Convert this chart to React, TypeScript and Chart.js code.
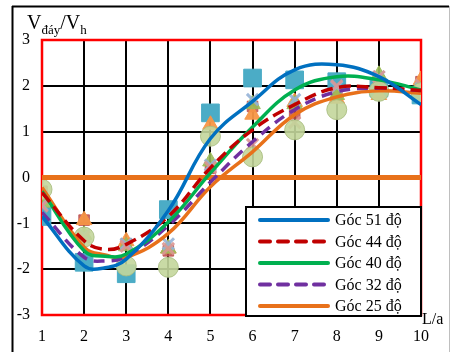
import React, { useEffect, useRef } from 'react';
import { Chart, registerables } from 'chart.js';
Chart.register(...registerables);

const FONT = "'Liberation Serif', 'Times New Roman', serif";

// Curve sample positions (L/a) and values (V_day/V_h)
const xCurve = [1, 2, 2.5, 3, 4, 5, 6, 7, 8, 9, 10];
const goc51 = [-0.85, -1.93, -1.97, -1.78, -0.72, 0.85, 1.66, 2.35, 2.46, 2.2, 1.59];
const goc44 = [-0.33, -1.38, -1.57, -1.46, -0.85, 0.21, 1.04, 1.59, 1.96, 1.96, 1.9];
const goc40 = [-0.3, -1.6, -1.72, -1.67, -0.97, 0.1, 1.1, 1.91, 2.2, 2.13, 1.91];
const goc32 = [-0.76, -1.74, -1.82, -1.72, -1.05, -0.1, 0.78, 1.48, 1.87, 1.95, 1.9];
const goc25 = [-0.22, -1.52, -1.69, -1.74, -1.22, -0.2, 0.56, 1.37, 1.76, 1.89, 1.84];

// Measured points
const xPts = [1, 2, 3, 4, 5, 6, 7, 8, 9, 10];
const ptSquare = [-0.85, -1.85, -2.1, -0.7, 1.41, 2.17, 2.13, 2.09, 1.95, 1.8];
const ptRedSq = [-0.3, -0.93, -1.45, -1.6, 0.2, 1.55, 1.4, 1.75, 2.0, 2.09];
const ptOrangeTri = [-0.35, -0.93, -1.39, -1.55, 1.15, 1.37, 1.65, 1.72, 1.8, 2.13];
const ptGreenTri = [-0.55, -1.25, -1.5, -1.55, 0.35, 1.6, 1.6, 1.8, 2.24, 1.9];
const ptCrossPink = [-0.62, -1.3, -1.5, -1.55, 0.22, 0.72, 1.2, 2.0, 2.2, 2.02];
const ptCrossBlue = [-0.6, -1.25, -1.45, -1.45, 0.27, 1.7, 1.7, 1.98, 2.2, 1.95];
const ptCircle = [-0.26, -1.3, -1.93, -1.96, 0.9, 0.45, 1.04, 1.48, 1.88, 1.85];

const zeroX = [1, 10];
const zeroY = [0, 0];

const legendLabels = ['Góc 51 độ', 'Góc 44 độ', 'Góc 40 độ', 'Góc 32 độ', 'Góc 25 độ'];
const legendColors = ['#0070C0', '#C00000', '#00B050', '#7030A0', '#E8711A'];
const legendDash = [[], [12, 6], [], [11, 7], []];

const pairs = (xs: number[], ys: number[]) => ys.map((y, i) => ({ x: xs[i], y }));

export default function App() {
  const ref = useRef<HTMLCanvasElement | null>(null);
  useEffect(() => {
    document.body.style.margin = '0';
    const canvas = ref.current!;
    const curves = [goc51, goc44, goc40, goc32, goc25].map((d, i) => ({
      type: 'line' as const,
      label: legendLabels[i],
      data: pairs(xCurve, d),
      borderColor: legendColors[i],
      borderWidth: 3.5,
      borderDash: legendDash[i],
      pointRadius: 0,
      tension: 0.4,
      fill: false,
    }));
    const markers = (ys: number[], style: string, r: number, bg: string, bc: string, bw = 1) => ({
      type: 'line' as const,
      label: '',
      data: pairs(xPts, ys),
      showLine: false,
      pointStyle: style,
      pointRadius: r,
      pointBackgroundColor: bg,
      pointBorderColor: bc,
      pointBorderWidth: bw,
    });
    const frame = {
      id: 'frame',
      beforeDraw(chart: any) {
        const c = chart.ctx;
        c.save();
        c.strokeStyle = '#000';
        c.lineWidth = 2;
        c.beginPath();
        c.moveTo(12, 6.5);
        c.lineTo(449, 6.5);
        c.moveTo(12.5, 6);
        c.lineTo(12.5, 352);
        c.stroke();
        c.strokeStyle = '#BFBFBF';
        c.lineWidth = 1;
        c.beginPath();
        c.moveTo(449.5, 6);
        c.lineTo(449.5, 352);
        c.stroke();
        c.restore();
      },
      beforeDatasetsDraw(chart: any) {
        const { left, top, right, bottom } = chart.chartArea;
        const c = chart.ctx;
        c.save();
        c.strokeStyle = '#FF0000';
        c.lineWidth = 2.5;
        c.strokeRect(left, top, right - left, bottom - top);
        c.restore();
      },
      afterDraw(chart: any) {
        const c = chart.ctx;
        c.save();
        // legend box
        const lx = 246, ly = 207, lw = 175, lh = 109;
        c.fillStyle = '#fff';
        c.fillRect(lx, ly, lw, lh);
        c.strokeStyle = '#000';
        c.lineWidth = 2;
        c.strokeRect(lx, ly, lw, lh);
        c.font = `16px ${FONT}`;
        c.textBaseline = 'middle';
        c.textAlign = 'left';
        legendLabels.forEach((lab, i) => {
          const yy = 220 + i * 21.5;
          c.strokeStyle = legendColors[i];
          c.lineWidth = 4;
          c.lineCap = 'round';
          c.setLineDash(legendDash[i].length ? [10, 8] : []);
          c.beginPath();
          c.moveTo(260, yy);
          c.lineTo(328, yy);
          c.stroke();
          c.setLineDash([]);
          c.fillStyle = '#000';
          c.fillText(lab, 335, yy + 1);
        });
        // title
        c.textBaseline = 'alphabetic';
        let x = 27;
        const parts: [string, number, number][] = [
          ['V', 20, 29],
          ['đáy', 13, 34],
          ['/V', 20, 29],
          ['h', 13, 34],
        ];
        parts.forEach(([t, s, b]) => {
          c.font = `${s}px ${FONT}`;
          c.fillText(t, x, b);
          x += c.measureText(t).width;
        });
        c.font = `16px ${FONT}`;
        c.fillText('L/a', 422, 324);
        c.restore();
      },
    };
    const chart = new Chart(canvas, {
      type: 'line',
      data: {
        datasets: [
          ...curves,
          {
            type: 'line',
            label: '',
            data: pairs(zeroX, zeroY),
            borderColor: '#E8711A',
            borderWidth: 5,
            pointRadius: 0,
          },
          markers(ptCircle, 'circle', 10, 'rgba(195,214,155,0.9)', 'rgba(170,190,130,0.9)'),
          markers(ptCrossPink, 'crossRot', 8, 'rgba(218,150,148,0.9)', 'rgba(218,150,148,0.9)', 3),
          markers(ptCrossBlue, 'crossRot', 8, 'rgba(149,179,215,0.9)', 'rgba(149,179,215,0.9)', 3),
          markers(ptGreenTri, 'triangle', 9, 'rgba(155,187,89,0.9)', 'rgba(155,187,89,0.9)'),
          markers(ptOrangeTri, 'triangle', 9, 'rgba(247,150,70,0.95)', 'rgba(247,150,70,0.95)'),
          markers(ptRedSq, 'rect', 7.5, 'rgba(192,80,77,0.85)', 'rgba(192,80,77,0.85)'),
          markers(ptSquare, 'rect', 12.5, 'rgba(75,172,198,1)', 'rgba(75,172,198,1)'),
        ],
      } as any,
      options: {
        animation: false,
        responsive: false,
        layout: { padding: { top: 40, right: 29, left: 0, bottom: 0 } },
        plugins: { legend: { display: false }, tooltip: { enabled: false } },
        scales: {
          x: {
            type: 'linear',
            min: 1,
            max: 10,
            afterFit: (s: any) => { s.height = 37; },
            ticks: { stepSize: 1, color: '#000', font: { family: FONT, size: 16 }, padding: 12, maxRotation: 0 },
            grid: { color: '#000', lineWidth: 2, drawTicks: false },
            border: { display: false },
          },
          y: {
            min: -3,
            max: 3,
            afterFit: (s: any) => { s.width = 42; },
            ticks: { stepSize: 1, color: '#000', font: { family: FONT, size: 16 }, padding: 12 },
            grid: { color: '#000', lineWidth: 2, drawTicks: false },
            border: { display: false },
          },
        },
      } as any,
      plugins: [frame],
    });
    return () => chart.destroy();
  }, []);
  return (
    <div style={{ width: 450, height: 352 }}>
      <canvas ref={ref} width={450} height={352} />
    </div>
  );
}
